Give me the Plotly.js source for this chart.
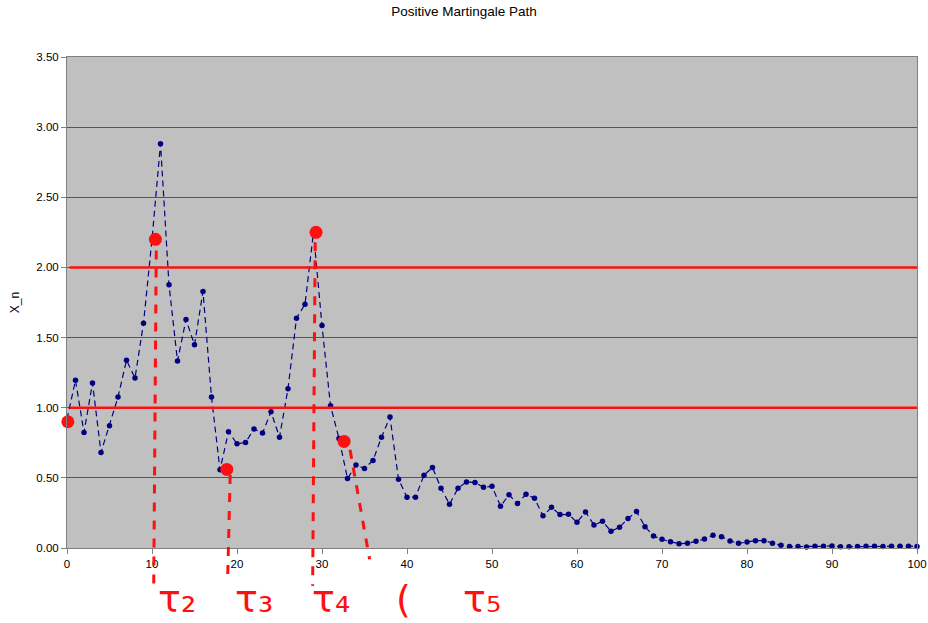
<!DOCTYPE html>
<html>
<head>
<meta charset="utf-8">
<script src="https://cdn.plot.ly/plotly-3.0.1.min.js"></script>
<style>html,body{margin:0;padding:0;background:#fff;}#chart{width:928px;height:623px;}</style>
</head>
<body>
<div id="chart"></div>
<script>
// Martingale path values X_n for n = 0..100
const steps = Array.from({length: 101}, (_, i) => i);
const xn = [
  0.92, 1.195, 0.824, 1.176, 0.681, 0.871, 1.076, 1.338, 1.212, 1.602,
  2.20, 2.881, 1.876, 1.333, 1.629, 1.448, 1.829, 1.076, 0.557, 0.829,
  0.743, 0.752, 0.848, 0.819, 0.971, 0.790, 1.136, 1.638, 1.738, 2.25,
  1.586, 1.014, 0.781, 0.495, 0.591, 0.567, 0.624, 0.790, 0.933, 0.490,
  0.362, 0.362, 0.519, 0.574, 0.426, 0.312, 0.426, 0.471, 0.467, 0.433,
  0.440, 0.298, 0.379, 0.317, 0.383, 0.355, 0.229, 0.290, 0.238, 0.240,
  0.183, 0.257, 0.164, 0.190, 0.119, 0.148, 0.210, 0.260, 0.152, 0.086,
  0.062, 0.045, 0.031, 0.033, 0.048, 0.064, 0.090, 0.081, 0.050, 0.033,
  0.043, 0.052, 0.052, 0.033, 0.019, 0.010, 0.010, 0.008, 0.012, 0.012,
  0.015, 0.009, 0.009, 0.010, 0.013, 0.013, 0.010, 0.013, 0.013, 0.013,
  0.010
];
const xTicks = [0, 10, 20, 30, 40, 50, 60, 70, 80, 90, 100];
const yTicks = [0, 0.5, 1.0, 1.5, 2.0, 2.5, 3.0, 3.5];
const yTickLabels = ["0.00", "0.50", "1.00", "1.50", "2.00", "2.50", "3.00", "3.50"];
const X_MAX = 100, Y_MAX = 3.5;

// Hand-drawn red overlay: crossing levels, marked points, stopping times
const levels = [2.0, 1.0];
const markX = [0.1, 10.4, 18.8, 29.3, 32.6];
const markY = [0.90, 2.20, 0.56, 2.25, 0.76];
const tauNames = ["τ₂", "τ₃", "τ₄", "(", "τ₅"];
const tauX = [12.9, 22.0, 31.1, 39.6, 48.8];
const tauY = -0.36;
// dashed stopping-time strokes: [xTop, yTop, xBottom, yBottom] in data units
const tauStrokes = [[10.5, 2.12, 10.2, -0.30], [19.2, 0.52, 18.9, -0.22], [29.2, 2.18, 28.9, -0.27], [33.3, 0.70, 35.6, -0.08]];

const red = "#ff1010";
const px = v => v / X_MAX, py = v => v / Y_MAX;
const shapes = [];
levels.forEach(l => shapes.push({type: "line", xref: "paper", yref: "paper", x0: px(0.3), x1: px(100), y0: py(l), y1: py(l),
  line: {color: red, width: 2.4}}));
tauStrokes.forEach(v => shapes.push({type: "line", xref: "paper", yref: "paper", x0: px(v[0]), y0: py(v[1]), x1: px(v[2]), y1: py(v[3]),
  line: {color: red, width: 3, dash: "dash"}}));

const annotations = tauNames.map((t, i) => ({
  x: px(tauX[i]), y: py(tauY), xref: "paper", yref: "paper", text: t, showarrow: false, yanchor: "middle", xanchor: "center",
  font: {family: "DejaVu Sans, sans-serif", size: 38, color: red}
}));

const traces = [
  {x: steps, y: xn, type: "scatter", mode: "lines+markers",
   line: {color: "#000080", width: 1.2, dash: "6px,4px"},
   marker: {color: "#000080", size: 5.5}, hoverinfo: "x+y", cliponaxis: false},
  {x: markX, y: markY, type: "scatter", mode: "markers",
   marker: {color: red, size: 13}, cliponaxis: false, hoverinfo: "skip"}
];

const layout = {
  width: 928, height: 623,
  margin: {l: 67, r: 11, t: 57, b: 75},
  paper_bgcolor: "#ffffff",
  plot_bgcolor: "#c0c0c0",
  showlegend: false,
  title: {text: "Positive Martingale Path", x: 0.5, xanchor: "center", y: 0.99, yanchor: "top",
    font: {family: "Liberation Sans, Arial, sans-serif", size: 13.5, color: "#000"}},
  xaxis: {range: [0, X_MAX], tickvals: xTicks, ticks: "outside", ticklen: 5, tickcolor: "#808080",
    showgrid: false, zeroline: false, showline: true, linecolor: "#808080", mirror: true,
    tickfont: {family: "Liberation Sans, Arial, sans-serif", size: 11.5, color: "#000"}},
  yaxis: {range: [0, Y_MAX], tickvals: yTicks, ticktext: yTickLabels, ticks: "outside", ticklen: 5,
    tickcolor: "#808080", showgrid: true, gridcolor: "#555555", gridwidth: 1, zeroline: false,
    showline: true, linecolor: "#808080", mirror: true,
    title: {text: "X_n", standoff: 14, font: {family: "Liberation Sans, Arial, sans-serif", size: 12, color: "#000"}},
    tickfont: {family: "Liberation Sans, Arial, sans-serif", size: 11.5, color: "#000"}},
  shapes: shapes,
  annotations: annotations
};

Plotly.newPlot("chart", traces, layout, {displayModeBar: false, staticPlot: true});
</script>
</body>
</html>
